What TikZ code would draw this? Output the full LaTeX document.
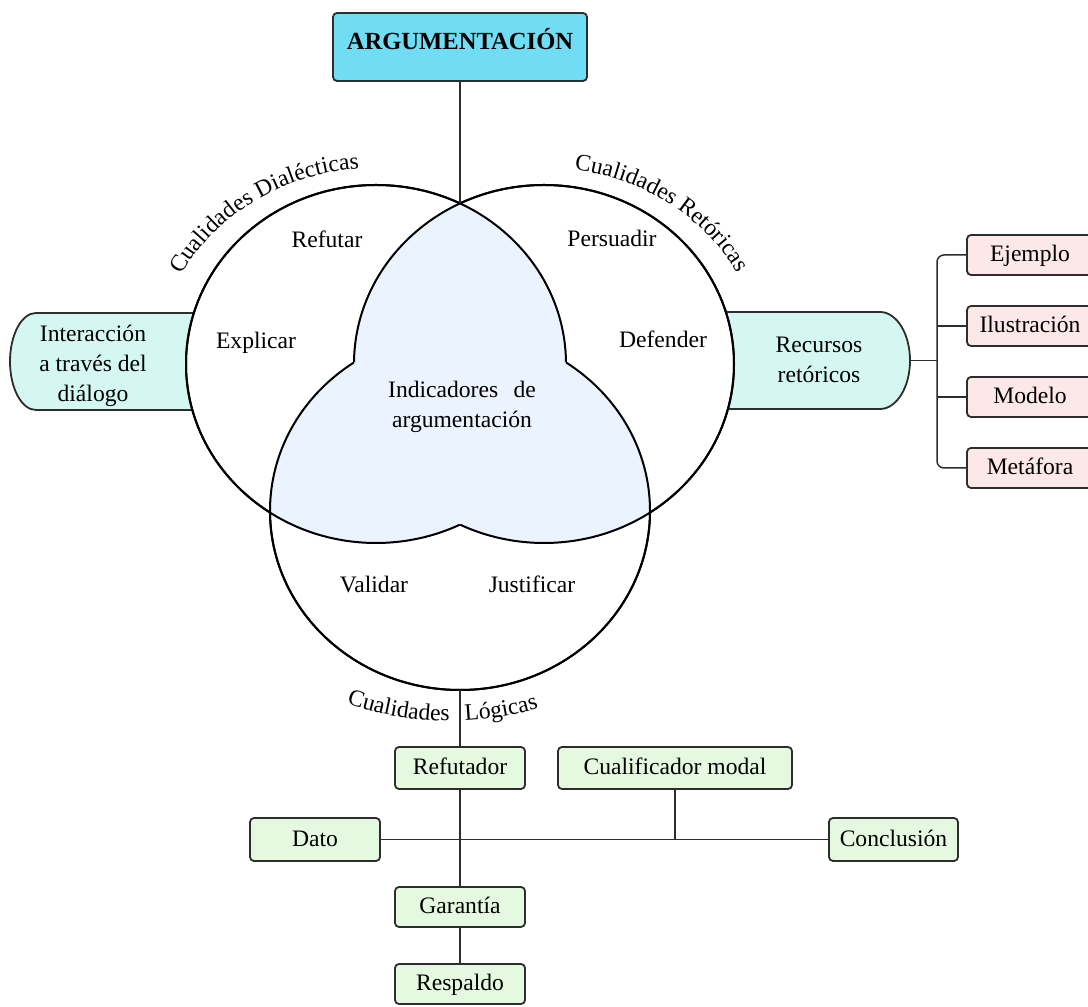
\documentclass[tikz,border=0pt]{standalone}
\usepackage{fontspec}
\setmainfont{Liberation Serif}
\usetikzlibrary{decorations.text}

\definecolor{headfill}{RGB}{112,221,244}
\definecolor{sidefill}{RGB}{213,247,241}
\definecolor{pinkfill}{RGB}{252,232,232}
\definecolor{greenfill}{RGB}{228,249,224}
\definecolor{corefill}{RGB}{235,243,254}
\definecolor{inkline}{RGB}{45,45,45}

\newcommand\txtfont{\fontsize{23.6}{30}\selectfont}
\newcommand\headfont{\fontsize{24.6}{30}\selectfont\bfseries}

% the three overlapping qualities
\newcommand\ellL{(376,643) ellipse [x radius=190pt, y radius=179pt]}
\newcommand\ellR{(544,643) ellipse [x radius=190pt, y radius=179pt]}
\newcommand\ellB{(460,496) ellipse [x radius=190pt, y radius=179pt]}
\newcommand\outside{(-20,-20) rectangle (1110,1030)}

\begin{document}
\begin{tikzpicture}[x=1pt, y=1pt,
  every node/.style={font=\txtfont, inner sep=0pt},
  box/.style={draw=inkline, line width=1.8pt, rounded corners=4pt,
    minimum height=40pt, text height=16.5pt, text depth=2.5pt},
  greenbox/.style={box, fill=greenfill, minimum width=130pt},
  pinkbox/.style={box, fill=pinkfill, minimum width=126pt},
  sidebox/.style={draw=inkline, line width=1.8pt, fill=sidefill},
  link/.style={draw=inkline, line width=1.5pt},
  ring/.style={draw=black, line width=2pt},
  word/.style={anchor=base},
  arctext/.style={decorate, decoration={text along path, text align=center,
    text={|\txtfont|#1}}}
]
\useasboundingbox (0,0) rectangle (1088,1007);
\clip (0,0) rectangle (1088,1007);

% side tabs behind the circles
\draw[sidebox] (230,694) -- (36,694)
  arc[start angle=90, end angle=270, x radius=26pt, y radius=48.5pt]
  -- (230,597) -- cycle;
\draw[sidebox] (700,695) -- (880,695)
  arc[start angle=90, end angle=-90, x radius=30pt, y radius=48.5pt]
  -- (700,598) -- cycle;

% circle interiors
\fill[white] \ellL;
\fill[white] \ellR;
\fill[white] \ellB;

% region shared by at least two circles
\begin{scope}
  \clip \ellL;
  \fill[corefill] \ellR;
  \fill[corefill] \ellB;
\end{scope}
\begin{scope}
  \clip \ellR;
  \fill[corefill] \ellB;
\end{scope}

% outlines, hidden where a circle runs inside both others
\begin{scope}[even odd rule]\clip \outside \ellR; \draw[ring] \ellL;\end{scope}
\begin{scope}[even odd rule]\clip \outside \ellB; \draw[ring] \ellL;\end{scope}
\begin{scope}[even odd rule]\clip \outside \ellL; \draw[ring] \ellR;\end{scope}
\begin{scope}[even odd rule]\clip \outside \ellB; \draw[ring] \ellR;\end{scope}
\begin{scope}[even odd rule]\clip \outside \ellL; \draw[ring] \ellB;\end{scope}
\begin{scope}[even odd rule]\clip \outside \ellR; \draw[ring] \ellB;\end{scope}

% title
\node[box, fill=headfill, minimum width=254pt, minimum height=68pt,
  font=\headfont, text height=17pt, text depth=11pt] (arg) at (460,960)
  {ARGUMENTACIÓN};
\coordinate (vtop) at (460,803.6);
\draw[link] (arg.south) -- (vtop);

% curved headings
\path[arctext={Cualidades Dialécticas}] (376,643) ++(160:218pt and 196pt)
  arc[start angle=160, end angle=88, x radius=218pt, y radius=196pt];
\path[arctext={Cualidades Retóricas}] (544,643) ++(88:218pt and 196pt)
  arc[start angle=88, end angle=21, x radius=218pt, y radius=196pt];
\path[decorate, decoration={text along path, text align=right,
    text={|\txtfont|Cualidades}}]
  (450,596) ++(240:310pt) arc[start angle=240, end angle=269.9, radius=310pt];
\path[decorate, decoration={text along path, text align=left,
    text={|\txtfont|Lógicas}}]
  (450,596) ++(272.8:310pt) arc[start angle=272.8, end angle=300, radius=310pt];

% words inside the circles
\node[word] (refutar)   at (327,759) {Refutar};
\node[word] (persuadir) at (612,760) {Persuadir};
\node[word] (explicar)  at (256,658) {Explicar};
\node[word] (defender)  at (663,659) {Defender};
\node[word] (validar)   at (374,414) {Validar};
\node[word] (justificar) at (532,414) {Justificar};
\node[align=center] (indicadores) at (462,600)
  {Indicadores\hspace{0.4em} de\\argumentación};

% tab texts
\node[align=center] (dialogo) at (93,641)
  {Interacción\\a través del\\diálogo};
\node[align=center] (recursos) at (819,647) {Recursos\\retóricos};

% rhetorical resources
\node[pinkbox] (ejemplo)     at (1030,752) {Ejemplo};
\node[pinkbox] (ilustracion) at (1030,681) {Ilustración};
\node[pinkbox] (modelo)      at (1030,610) {Modelo};
\node[pinkbox] (metafora)    at (1030,539) {Metáfora};
\coordinate (recE) at (910,646.5);
\coordinate (bus) at (937,646.5);
\draw[link] (recE) -- (bus);
\draw[link, rounded corners=7pt] (ejemplo.west) -| (bus) |- (metafora.west);
\draw[link] (ilustracion.west) -- (ilustracion.west -| bus);
\draw[link] (modelo.west) -- (modelo.west -| bus);

% Toulmin scheme
\node[greenbox, minimum height=42pt] (refutador) at (460,239) {Refutador};
\node[greenbox, minimum height=42pt, minimum width=234pt] (modal) at (675,239)
  {Cualificador modal};
\node[greenbox, minimum height=43pt] (dato) at (315,167.5) {Dato};
\node[greenbox, minimum height=43pt, minimum width=129pt] (conclusion)
  at (893.5,167.5) {Conclusión};
\node[greenbox] (garantia) at (460,100) {Garantía};
\node[greenbox] (respaldo) at (460,23) {Respaldo};

\coordinate (bbot) at (460,317);
\draw[link] (bbot) -- (refutador.north);
\draw[link] (refutador.south) -- (garantia.north);
\draw[link] (garantia.south) -- (respaldo.north);
\draw[link] (dato.east) -- (conclusion.west);
\draw[link] (modal.south) -- (modal.south |- dato.east);
\end{tikzpicture}
\end{document}
